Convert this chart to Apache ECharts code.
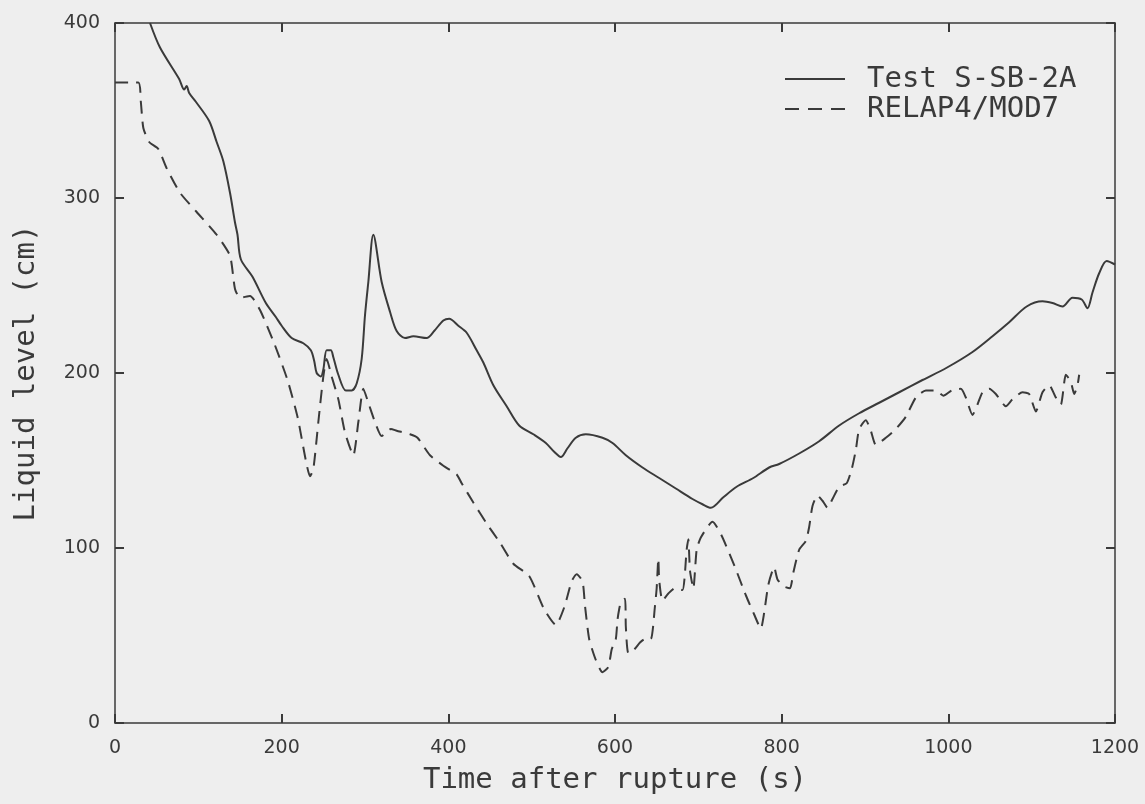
<!DOCTYPE html>
<html>
<head>
<meta charset="utf-8">
<title>Liquid level</title>
<script src="https://cdn.jsdelivr.net/npm/echarts@6/dist/echarts.min.js"></script>
<style>
  html, body { margin: 0; padding: 0; background: #eeeeee; }
  #chart { width: 1145px; height: 804px; }
</style>
</head>
<body>
<div id="chart"></div>
<script>
// Measured liquid level, Test S-SB-2A
const testTime = [42, 54, 77, 83, 86, 89, 97, 113, 122, 130, 138, 144, 147, 151, 165, 181, 193, 200, 212, 226,
  235, 239, 242, 247, 250, 254, 259, 262, 268, 277, 284, 290, 296, 300, 304, 310, 320, 330, 338, 348,
  358, 374, 383, 394, 401, 412, 422, 434, 442, 454, 470, 485, 502, 517, 527, 535, 543, 553, 565, 585,
  597, 613, 633, 653, 673, 693, 705, 715, 730, 746, 766, 785, 797, 821, 845, 869, 893, 917, 941, 969,
  998, 1029, 1053, 1073, 1094, 1113, 1125, 1137, 1149, 1160, 1167, 1173, 1181, 1190, 1200];
const testLevel = [400, 386, 368, 362, 364, 360, 355, 344, 332, 321, 303, 286, 279, 265, 255, 240, 232, 227, 220, 217,
  213, 207, 200, 198, 202, 213, 213, 209, 199, 190, 190, 194, 208, 233, 252, 279, 252, 235, 224, 220,
  221, 220, 224, 230, 231, 227, 223, 213, 206, 193, 181, 170, 165, 160, 155, 152, 157, 163, 165, 163,
  160, 153, 146, 140, 134, 128, 125, 123, 129, 135, 140, 146, 148, 154, 161, 170, 177, 183, 189, 196,
  203, 212, 221, 229, 238, 241, 240, 238, 243, 242, 237, 246, 257, 264, 262];

// RELAP4/MOD7 calculation
const relapTime = [0, 28, 31, 34, 41, 52, 62, 78, 98, 122, 138, 144, 150, 162, 174, 191, 207, 219, 229, 234,
  238, 244, 250, 254, 260, 268, 276, 286, 292, 298, 304, 312, 320, 331, 338, 354, 363, 378, 394, 410,
  416, 430, 446, 462, 478, 497, 515, 529, 539, 548, 554, 561, 564, 569, 577, 585, 592, 596, 601, 603,
  605, 607, 612, 613, 616, 623, 630, 636, 643, 648, 650, 652, 653, 657, 664, 672, 681, 686, 688, 690,
  694, 698, 703, 717, 728, 744, 757, 767, 775, 779, 784, 791, 795, 803, 810, 814, 821, 829, 833, 837,
  843, 849, 855, 861, 869, 878, 884, 889, 893, 901, 907, 913, 925, 937, 949, 961, 973, 985, 994, 1004,
  1015, 1021, 1029, 1035, 1041, 1049, 1057, 1069, 1077, 1089, 1097, 1105, 1113, 1121, 1129, 1135, 1141, 1147, 1151, 1155,
  1157];
const relapLevel = [366, 366, 355, 340, 332, 328, 317, 303, 292, 279, 267, 248, 243, 244, 236, 217, 196, 175, 150, 141,
  145, 172, 198, 208, 198, 185, 166, 153, 172, 191, 183, 172, 164, 168, 167, 165, 163, 153, 147, 142,
  137, 126, 114, 103, 91, 84, 65, 56, 66, 81, 85, 81, 67, 48, 36, 29, 32, 42, 48, 59,
  65, 69, 71, 55, 40, 42, 46, 48, 48, 67, 77, 94, 82, 70, 74, 77, 76, 99, 105, 87,
  77, 99, 106, 115, 107, 89, 73, 62, 54, 63, 79, 89, 82, 78, 77, 86, 99, 104, 112, 124,
  130, 127, 123, 128, 135, 137, 145, 156, 168, 173, 167, 159, 163, 168, 175, 186, 190, 190, 187, 190,
  191, 186, 176, 182, 189, 191, 188, 181, 185, 189, 188, 178, 189, 193, 186, 182, 199, 195, 188, 193,
  199];

const xTicks = [0, 200, 400, 600, 800, 1000, 1200];
const yTicks = [0, 100, 200, 300, 400];

const ink = '#3a3a3a';
// evenly spaced, plotter-like lettering for titles and legend
const font = 'DejaVu Sans Mono';
const tickFont = 'DejaVu Sans';

const zip = (xs, ys) => xs.map((x, i) => [x, ys[i]]);

// Shared look of all four frame sides: plain line, ticks pointing into the plot
const frameAxis = {
  axisLine: { show: true, onZero: false, lineStyle: { color: ink, width: 1.5 } },
  axisTick: { show: true, inside: true, length: 9, lineStyle: { color: ink, width: 2 } },
  splitLine: { show: false }
};

const chart = echarts.init(document.getElementById('chart'));
chart.setOption({
  backgroundColor: '#eeeeee',
  animation: false,
  grid: { left: 115, right: 30, top: 23, bottom: 81 },
  legend: {
    orient: 'vertical',
    left: 780,
    top: 59,
    itemWidth: 60,
    itemHeight: 2,
    itemGap: 0,
    textStyle: { fontFamily: font, fontSize: 29, color: ink, lineHeight: 30, padding: [0, 0, 0, 17] },
    data: [
      { name: 'Test S-SB-2A', icon: 'path://M0 0H60V2H0Z', itemStyle: { color: ink } },
      { name: 'RELAP4/MOD7', icon: 'path://M0 0H14V2H0Z M23 0H37V2H23Z M46 0H60V2H46Z', itemStyle: { color: ink } }
    ]
  },
  xAxis: [
    Object.assign({
      type: 'value', position: 'bottom', min: xTicks[0], max: xTicks[xTicks.length - 1], interval: 200,
      name: 'Time after rupture (s)', nameLocation: 'middle', nameGap: 43,
      nameTextStyle: { fontFamily: font, fontSize: 29, color: ink },
      axisLabel: { fontFamily: tickFont, fontSize: 19, color: ink, margin: 16, formatter: v => String(v) }
    }, frameAxis),
    Object.assign({
      type: 'value', position: 'top', min: xTicks[0], max: xTicks[xTicks.length - 1], interval: 200,
      axisLabel: { show: false }
    }, frameAxis)
  ],
  yAxis: [
    Object.assign({
      type: 'value', position: 'left', min: yTicks[0], max: yTicks[yTicks.length - 1], interval: 100,
      name: 'Liquid level (cm)', nameLocation: 'middle', nameGap: 74,
      nameTextStyle: { fontFamily: font, fontSize: 29, color: ink },
      axisLabel: { fontFamily: tickFont, fontSize: 19, color: ink, margin: 15, formatter: v => String(v) }
    }, frameAxis),
    Object.assign({
      type: 'value', position: 'right', min: yTicks[0], max: yTicks[yTicks.length - 1], interval: 100,
      axisLabel: { show: false }
    }, frameAxis)
  ],
  series: [
    {
      name: 'Test S-SB-2A', type: 'line', symbol: 'none', smooth: 0.3,
      xAxisIndex: 0, yAxisIndex: 0,
      lineStyle: { color: ink, width: 2 },
      itemStyle: { color: ink },
      data: zip(testTime, testLevel)
    },
    {
      name: 'RELAP4/MOD7', type: 'line', symbol: 'none', smooth: 0.2,
      xAxisIndex: 0, yAxisIndex: 0,
      lineStyle: { color: ink, width: 2, type: [13, 8] },
      itemStyle: { color: ink },
      data: zip(relapTime, relapLevel)
    }
  ]
});
</script>
</body>
</html>
